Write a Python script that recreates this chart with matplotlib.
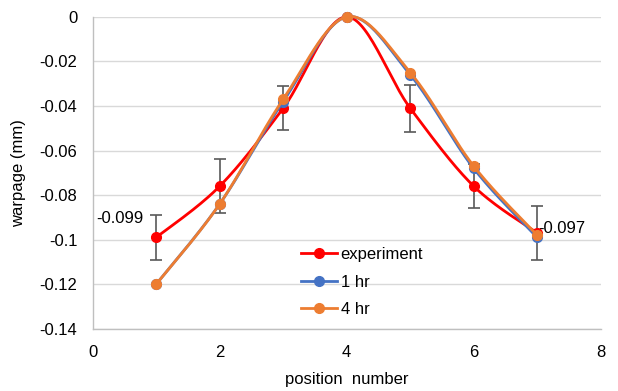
import numpy as np
import matplotlib
matplotlib.use('Agg')
import matplotlib.pyplot as plt

plt.rcParams['font.family'] = ['Liberation Sans', 'DejaVu Sans']

# data
position = [1, 2, 3, 4, 5, 6, 7]
experiment = [-0.099, -0.076, -0.041, 0.0, -0.041, -0.076, -0.097]
exp_err = [0.010, 0.012, 0.010, 0.0, 0.0105, 0.010, 0.012]
hr1 = [-0.120, -0.084, -0.038, 0.0, -0.026, -0.068, -0.099]
hr4 = [-0.120, -0.084, -0.037, 0.0, -0.025, -0.067, -0.098]


def smooth(xs, ys, n=30):
    # Excel-style smoothed line: cubic Bezier with Catmull-Rom control points
    p = np.column_stack([xs, ys]).astype(float)
    p = np.vstack([p[0], p, p[-1]])
    out = []
    t = np.linspace(0, 1, n)[:, None]
    for i in range(1, len(p) - 2):
        p0, p1, p2, p3 = p[i - 1], p[i], p[i + 1], p[i + 2]
        c1 = p1 + (p2 - p0) / 6
        c2 = p2 - (p3 - p1) / 6
        seg = ((1 - t) ** 3) * p1 + 3 * ((1 - t) ** 2) * t * c1 + 3 * (1 - t) * t ** 2 * c2 + t ** 3 * p2
        out.append(seg)
    out = np.vstack(out)
    return out[:, 0], out[:, 1]


fs = 12
fig = plt.figure(figsize=(6.18, 3.91), dpi=100)
ax = fig.add_axes([0.150, 0.159, 0.822, 0.798])

series = [('experiment', experiment, '#FF0000'),
          ('1 hr', hr1, '#4472C4'),
          ('4 hr', hr4, '#ED7D31')]

ax.errorbar(position, experiment, yerr=exp_err, fmt='none', ecolor='#595959',
            elinewidth=1.2, capsize=4, capthick=1.2, zorder=2)

for i, (name, vals, col) in enumerate(series):
    sx, sy = smooth(position, vals)
    ax.plot(sx, sy, color=col, lw=2, zorder=3 + i, clip_on=False)
    ax.plot(position, vals, 'o', color=col, ms=7, zorder=3 + i, clip_on=False)
    ax.plot([], [], '-o', color=col, lw=2, ms=7, label=name)

# data labels on the end points
ax.text(position[0] - 0.2, experiment[0] + 0.0085, '%.3f' % experiment[0],
        ha='right', va='center', fontsize=fs, zorder=1)
ax.text(position[-1] + 0.02, experiment[-1] + 0.002, '%.3f' % experiment[-1],
        ha='left', va='center', fontsize=fs, zorder=1)

ax.set_xlim(0, 8)
ax.set_ylim(-0.14, 0)
ax.set_xticks([0, 2, 4, 6, 8])
ax.set_yticks(np.arange(-0.14, 0.001, 0.02))
ax.set_yticklabels(['-0.14', '-0.12', '-0.1', '-0.08', '-0.06', '-0.04', '-0.02', '0'])
ax.tick_params(length=0, labelsize=fs, colors='#000000')
ax.tick_params(axis='y', pad=11)
ax.tick_params(axis='x', pad=12)
ax.grid(axis='y', color='#D9D9D9', lw=1)
ax.set_axisbelow(True)
for s in ['top', 'right']:
    ax.spines[s].set_visible(False)
for s in ['left', 'bottom']:
    ax.spines[s].set_color('#BFBFBF')
    ax.spines[s].set_linewidth(1)

ax.set_xlabel('position  number', fontsize=fs, labelpad=8)
ax.set_ylabel('warpage (mm)', fontsize=fs, labelpad=10)

leg = ax.legend(loc='upper left', bbox_to_anchor=(0.38, 0.31), frameon=False,
                fontsize=fs, handlelength=2.2, handletextpad=0.2,
                labelspacing=0.75)

fig.savefig('out.png', dpi=100)
